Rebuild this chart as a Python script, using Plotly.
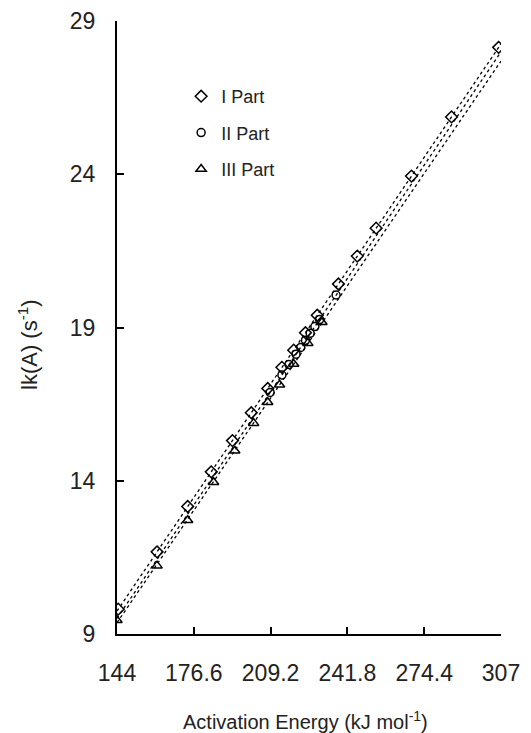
import numpy as np
import plotly.graph_objects as go

# ---- data ----
x_tick_vals = [144, 176.6, 209.2, 241.8, 274.4, 307]
x_tick_text = ["144", "176.6", "209.2", "241.8", "274.4", "307"]
y_tick_vals = [9, 14, 19, 24, 29]

part1_x = [144.5, 161, 174, 184, 193, 201, 208, 214, 219, 224, 229, 238, 246, 254, 269, 286, 306]
part1_y = [9.81, 11.68, 13.16, 14.29, 15.31, 16.22, 17.01, 17.70, 18.26, 18.83, 19.40, 20.42, 21.33, 22.24, 23.94, 25.87, 28.14]

part2_x = [209, 214, 217, 220, 222, 224, 226, 228, 230, 237]
part2_y = [16.88, 17.45, 17.79, 18.13, 18.35, 18.58, 18.81, 19.03, 19.26, 20.06]

part3_x = [144, 161, 174, 185, 194, 202, 208, 213, 219, 225, 231]
part3_y = [9.45, 11.23, 12.71, 13.95, 14.98, 15.88, 16.56, 17.13, 17.81, 18.49, 19.17]

fit_range = [144, 307]

series = [
    ("I Part", part1_x, part1_y, "diamond-open", 9),
    ("II Part", part2_x, part2_y, "circle-open", 8),
    ("III Part", part3_x, part3_y, "triangle-up-open", 9),
]

fig = go.Figure()

# fitted lines
for name, xs, ys, sym, sz in series:
    k, b = np.polyfit(xs, ys, 1)
    fx = np.array(fit_range, dtype=float)
    fig.add_trace(go.Scatter(x=fx, y=k * fx + b, mode="lines",
                             line=dict(color="black", width=1.3, dash="dot"),
                             showlegend=False, hoverinfo="skip"))

for i, (name, xs, ys, sym, sz) in enumerate(series):
    fig.add_trace(go.Scatter(x=xs, y=ys, mode="markers", name=name,
                             legendgroup=f"g{i}",
                             marker=dict(symbol=sym, size=sz, color="black",
                                         line=dict(color="black", width=1.5))))

font_family = "Liberation Sans, Arial, sans-serif"
PW, PH = 384, 613  # plot area size in px

fig.update_layout(
    width=531, height=733,
    margin=dict(l=117, r=30, t=21, b=99),
    paper_bgcolor="white", plot_bgcolor="white",
    font=dict(family=font_family, color="#222"),
    showlegend=True,
    legend=dict(x=0.167, y=0.907, xanchor="left", yanchor="top",
                bgcolor="rgba(0,0,0,0)", font=dict(size=18, color="#222"),
                tracegroupgap=10, traceorder="grouped",
                itemwidth=30),
    xaxis=dict(range=[144, 307], tickvals=x_tick_vals, ticktext=x_tick_text,
               showgrid=False, zeroline=False, showline=True, linecolor="black",
               linewidth=2, ticks="inside", ticklen=7, tickwidth=2, tickcolor="black",
               tickfont=dict(size=23, color="#222"), ticklabelstandoff=17,
               automargin=False),
    yaxis=dict(range=[9, 29], tickvals=y_tick_vals,
               showgrid=False, zeroline=False, showline=True, linecolor="black",
               linewidth=2, ticks="inside", ticklen=7, tickwidth=2, tickcolor="black",
               tickfont=dict(size=23, color="#222"), ticklabelstandoff=15,
               automargin=False),
    annotations=[
        dict(text="lk(A) (s<sup>-1</sup>)", textangle=-90,
             xref="paper", yref="paper",
             x=-89 / PW, y=(634 - 345) / PH,
             xanchor="center", yanchor="middle", showarrow=False,
             font=dict(size=22, color="#222")),
        dict(text="Activation Energy (kJ mol<sup>-1</sup>)",
             xref="paper", yref="paper",
             x=(305 - 117) / PW, y=(634 - 720) / PH,
             xanchor="center", yanchor="middle", showarrow=False,
             font=dict(size=20, color="#222")),
    ],
)

fig.write_html("out.html")
